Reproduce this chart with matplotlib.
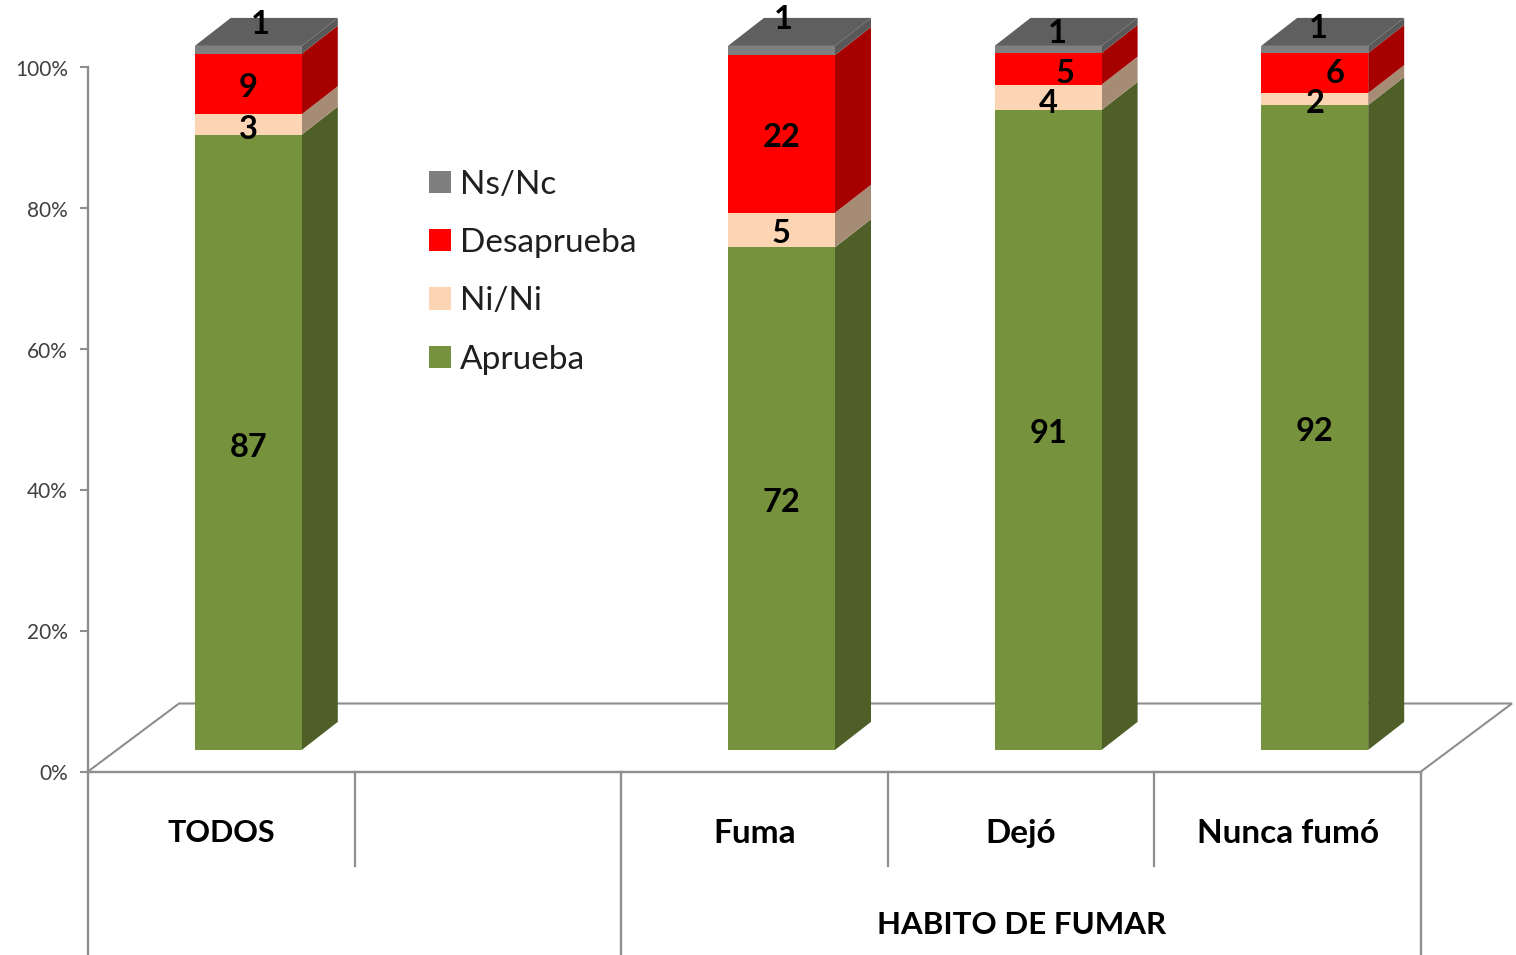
import matplotlib
matplotlib.use("Agg")
import matplotlib.pyplot as plt
from matplotlib.patches import Polygon, Patch
from matplotlib.transforms import ScaledTranslation
import numpy as np

plt.rcParams['font.family'] = ['Lato', 'DejaVu Sans']

# ---- data ----
categories = ["TODOS", "", "Fuma", "Dejó", "Nunca fumó"]
group_label = "HABITO DE FUMAR"
series_names = ["Aprueba", "Ni/Ni", "Desaprueba", "Ns/Nc"]
# stacked shares (zero column = empty category)
aprueba = [87.4, 0, 71.4, 90.9, 91.6]
ni_ni = [2.9, 0, 4.9, 3.6, 1.7]
desaprueba = [8.6, 0, 22.4, 4.5, 5.7]
ns_nc = [1.1, 0, 1.3, 1.0, 1.0]
# printed value labels
lab_aprueba = ["87", "", "72", "91", "92"]
lab_ni_ni = ["3", "", "5", "4", "2"]
lab_desaprueba = ["9", "", "22", "5", "6"]
lab_ns_nc = ["1", "", "1", "1", "1"]
tick_values = [0, 20, 40, 60, 80, 100]

# ---- styling ----
W, H = 1516, 955
front = ["#76923c", "#fcd5b5", "#ff0000", "#7f7f7f"]
side = ["#4e5f28", "#a68c75", "#a60000", "#595959"]
top_col = "#5f5f5f"
line_col = "#8e8e8e"
PX = 266.6          # px per category
PY = 7.04           # px per percent

fig = plt.figure(figsize=(W / 100, H / 100), dpi=100)
ax = fig.add_axes([88 / W, (H - 771.5) / H, 5 * PX / W, 100 * PY / H])
ax.set_xlim(0, 5)
ax.set_ylim(0, 100)
ax.patch.set_alpha(0)

for s in ("top", "right"):
    ax.spines[s].set_visible(False)
for s in ("left", "bottom"):
    ax.spines[s].set_color(line_col)
    ax.spines[s].set_linewidth(1.7)

# floor
floor_dx, floor_dy = 91 / PX, 68 / PY
ax.add_patch(Polygon([(0, 0), (floor_dx, floor_dy), (5 + floor_dx, floor_dy), (5, 0)],
                     closed=False, fill=False, edgecolor=line_col, lw=1.5,
                     clip_on=False, zorder=1))

# bars
x = np.arange(len(categories)) + 0.5
shift_x, shift_y = 27 / PX, 21.6 / PY
depth_x, depth_y = 36 / PX, 28 / PY
bw = 107 / PX
values = [aprueba, ni_ni, desaprueba, ns_nc]
labels = [lab_aprueba, lab_ni_ni, lab_desaprueba, lab_ns_nc]
# per-label nudges in pixels relative to the segment centre
nudges = {
    (0, 0): (0, -5), (0, 2): (0, -4), (0, 3): (0, -4), (0, 4): (0, -4),
    (1, 0): (0, -5), (1, 2): (-1, -4), (1, 3): (0, -6), (1, 4): (0, -4),
    (2, 0): (0, -4), (2, 2): (0, -4), (2, 3): (17, -5), (2, 4): (20, 0),
    (3, 0): (12, 25), (3, 2): (2, 31), (3, 3): (9, 16), (3, 4): (4, 21),
}
bottom = np.full(len(categories), shift_y)
for si, vals in enumerate(values):
    vals = np.array(vals, float)
    for ci in range(len(categories)):
        if vals[ci] == 0:
            continue
        r = x[ci] + shift_x + bw / 2
        b0, b1 = bottom[ci], bottom[ci] + vals[ci]
        ax.add_patch(Polygon([(r, b0), (r + depth_x, b0 + depth_y),
                              (r + depth_x, b1 + depth_y), (r, b1)],
                             closed=True, facecolor=side[si], edgecolor='none',
                             clip_on=False, zorder=2))
    ax.bar(x + shift_x, vals, width=bw, bottom=bottom, color=front[si],
           clip_on=False, zorder=3, linewidth=0)
    for ci in range(len(categories)):
        if labels[si][ci]:
            dx, dy = nudges[(si, ci)]
            ax.annotate(labels[si][ci],
                        (x[ci] + shift_x, bottom[ci] + vals[ci] / 2),
                        xytext=(dx * 0.72, dy * 0.72), textcoords='offset points',
                        ha='center', va='center', fontsize=23.5, fontweight='bold',
                        color='black', zorder=6, annotation_clip=False)
    bottom = bottom + vals

# top faces
for ci in range(len(categories)):
    if sum(v[ci] for v in values) == 0:
        continue
    l = x[ci] + shift_x - bw / 2
    r = l + bw
    t = bottom[ci]
    ax.add_patch(Polygon([(l, t), (l + depth_x, t + depth_y),
                          (r + depth_x, t + depth_y), (r, t)],
                         closed=True, facecolor=top_col, edgecolor='none',
                         clip_on=False, zorder=4))

# axis ticks
ax.set_yticks(tick_values)
ax.set_yticklabels([f"{v}%" for v in tick_values], fontsize=15, color="#404040")
ax.tick_params(axis='y', length=6, width=1.5, color=line_col, pad=8.5)
for t in ax.get_yticklabels():
    t.set_transform(t.get_transform() + ScaledTranslation(0, -0.5 / 100, fig.dpi_scale_trans))
ax.set_xticks(x)
ax.set_xticklabels(categories, fontsize=24, fontweight='bold', color='black')
ax.tick_params(axis='x', length=0, pad=34)
ax.get_xticklabels()[0].set_fontsize(22)

# multi-level category separators
short_sep = [1, 3, 4]
long_sep = [0, 2, 5]
short_end, long_end = -94 / PY, -184 / PY
for sx in short_sep:
    ax.plot([sx, sx], [0, short_end], color=line_col, lw=1.6, clip_on=False, zorder=1)
for sx in long_sep:
    ax.plot([sx, sx], [0, long_end], color=line_col, lw=1.7, clip_on=False, zorder=1)
ax.text(3.5, -153 / PY, group_label, ha='center', va='center', fontsize=22.5,
        fontweight='bold', color='black')

# legend
handles = [Patch(facecolor=front[i], edgecolor='none', label=series_names[i]) for i in (3, 2, 1, 0)]
ax.legend(handles=handles, loc='upper left', bbox_to_anchor=((429 - 88) / (5 * PX), (771 - 169) / (100 * PY)),
          frameon=False, fontsize=24, handlelength=0.66, handleheight=0.66, handletextpad=0.26,
          labelspacing=0.853, borderpad=0, borderaxespad=0, labelcolor='#1f1f1f')

fig.savefig("out.png", dpi=100, facecolor='white')
